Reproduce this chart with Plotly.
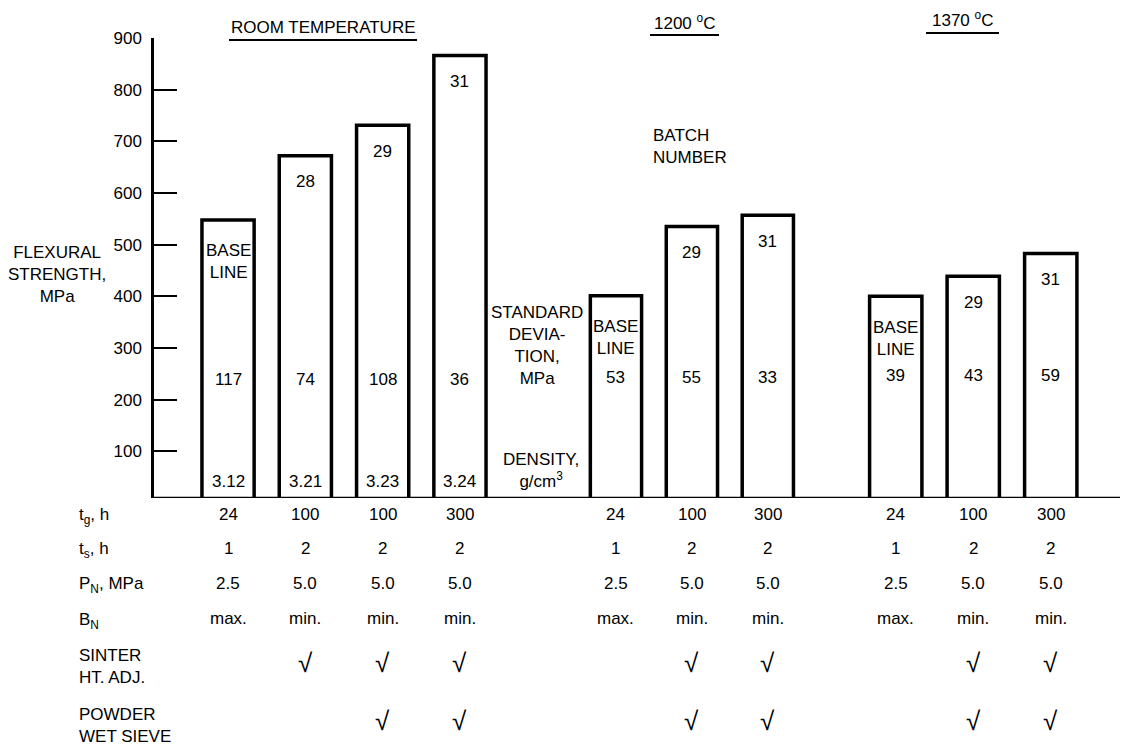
import plotly.graph_objects as go

FONT = "Liberation Sans, Arial, Helvetica, sans-serif"
FS = 17

# ---------------- data ----------------
group_titles = ["ROOM TEMPERATURE", "1200 <sup>o</sup>C", "1370 <sup>o</sup>C"]

rt_bars = ["Baseline", "Batch 28", "Batch 29", "Batch 31"]
hot_bars = ["Baseline", "Batch 29", "Batch 31"]

rt_strength = [548, 672, 731, 866]      # flexural strength, MPa
t1200_strength = [401, 535, 557]
t1370_strength = [400, 439, 483]

rt_batch = ["BASE<br>LINE", "28", "29", "31"]
hot_batch = ["BASE<br>LINE", "29", "31"]

rt_std = ["117", "74", "108", "36"]     # standard deviation, MPa
t1200_std = ["53", "55", "33"]
t1370_std = ["39", "43", "59"]

rt_density = ["3.12", "3.21", "3.23", "3.24"]   # g/cm3

rt_tg = ["24", "100", "100", "300"]
hot_tg = ["24", "100", "300"]
rt_ts = ["1", "2", "2", "2"]
hot_ts = ["1", "2", "2"]
rt_pn = ["2.5", "5.0", "5.0", "5.0"]
hot_pn = ["2.5", "5.0", "5.0"]
rt_bn = ["max.", "min.", "min.", "min."]
hot_bn = ["max.", "min.", "min."]
rt_sinter = [False, True, True, True]
hot_sinter = [False, True, True]
rt_sieve = [False, False, True, True]
hot_sieve = [False, True, True]

row_labels = ["t<sub>g</sub>, h", "t<sub>s</sub>, h", "P<sub>N</sub>, MPa", "B<sub>N</sub>",
              "SINTER<br>HT. ADJ.", "POWDER<br>WET SIEVE"]
y_ticks = [100, 200, 300, 400, 500, 600, 700, 800, 900]

# ---------------- layout geometry ----------------
# page has an 8px body margin; figure is sized to fit the remaining window
OFF = 8
W_FIG, H_FIG = 1131 - OFF, 751 - OFF
PLOT_L, PLOT_T, PLOT_B = 152, 38, 498          # page pixel positions of plot area
L = PLOT_L - OFF
T = PLOT_T - OFF
B = H_FIG - (PLOT_B - OFF)
R = 0
PW = W_FIG - L - R
PH = H_FIG - T - B
Y0, Y1 = 9.8, 900


def px2x(px):
    return (px - PLOT_L) / PW


def py2y(py):
    return (PLOT_B - py) / PH


domains = [
    [px2x(189.4), px2x(498.6)],
    [px2x(578.0), px2x(805.8)],
    [px2x(857.0), px2x(1089.5)],
]

groups = [
    dict(ax="x", cats=rt_bars, vals=rt_strength, batch=rt_batch, std=rt_std,
         std_py=380, tg=rt_tg, ts=rt_ts, pn=rt_pn, bn=rt_bn, sinter=rt_sinter, sieve=rt_sieve),
    dict(ax="x2", cats=hot_bars, vals=t1200_strength, batch=hot_batch, std=t1200_std,
         std_py=377, tg=hot_tg, ts=hot_ts, pn=hot_pn, bn=hot_bn, sinter=hot_sinter, sieve=hot_sieve),
    dict(ax="x3", cats=hot_bars, vals=t1370_strength, batch=hot_batch, std=t1370_std,
         std_py=375, tg=hot_tg, ts=hot_ts, pn=hot_pn, bn=hot_bn, sinter=hot_sinter, sieve=hot_sieve),
]

fig = go.Figure()
annotations = []


def ann(text, x, y, xref="paper", yref="paper", xanchor="center", yanchor="middle",
        size=FS, align="center", yshift=0):
    annotations.append(dict(text=text, x=x, y=y, xref=xref, yref=yref, xanchor=xanchor,
                            yanchor=yanchor, showarrow=False, align=align, yshift=yshift,
                            font=dict(family=FONT, size=size, color="black")))


row_py = [514, 548, 583, 618, 663, 721]

for gi, g in enumerate(groups):
    fig.add_trace(go.Bar(
        x=g["cats"], y=g["vals"], xaxis=g["ax"], yaxis="y",
        marker=dict(color="white", line=dict(color="black", width=3.5)),
        showlegend=False, hoverinfo="x+y",
    ))
    for i, c in enumerate(g["cats"]):
        lab = g["batch"][i]
        ann(lab, c, g["vals"][i], xref=g["ax"], yref="y",
            yshift=(-42 if "BASE" in lab else -26))
        ann(g["std"][i], c, py2y(g["std_py"]), xref=g["ax"])
        if gi == 0:
            ann(rt_density[i], c, py2y(481), xref=g["ax"])
        ann(g["tg"][i], c, py2y(row_py[0]), xref=g["ax"])
        ann(g["ts"][i], c, py2y(row_py[1]), xref=g["ax"])
        ann(g["pn"][i], c, py2y(row_py[2]), xref=g["ax"])
        ann(g["bn"][i], c, py2y(row_py[3]), xref=g["ax"])
        if g["sinter"][i]:
            ann("√", c, py2y(row_py[4]), xref=g["ax"], size=26)
        if g["sieve"][i]:
            ann("√", c, py2y(row_py[5]), xref=g["ax"], size=26)

# row labels
label_py = [516, 550, 585, 621, 666, 725]
for lab, py in zip(row_labels, label_py):
    ann(lab, px2x(77), py2y(py), xanchor="left", align="left")

# side labels
ann("FLEXURAL<br>STRENGTH,<br>MPa", px2x(57), py2y(274))
ann("STANDARD<br>DEVIA-<br>TION,<br>MPa", px2x(537), py2y(345))
ann("DENSITY,<br>g/cm<sup>3</sup>", px2x(541), py2y(470))
ann("BATCH<br>NUMBER", px2x(651), py2y(146), xanchor="left", align="left")

# group headings with underlines
heads = [(323, 27, 229, 417, 40), (684, 22, 650, 719, 35), (962, 19, 926, 999, 33)]
shapes = []
for title, (cx, cy, u0, u1, uy) in zip(group_titles, heads):
    ann(title, px2x(cx), py2y(cy))
    shapes.append(dict(type="line", xref="paper", yref="paper",
                       x0=px2x(u0), x1=px2x(u1), y0=py2y(uy), y1=py2y(uy),
                       line=dict(color="black", width=2)))

# baseline across all groups
shapes.append(dict(type="line", xref="paper", yref="y", x0=0, x1=px2x(1120),
                   y0=Y0, y1=Y0, line=dict(color="black", width=2.5)))

hidden = dict(showticklabels=False, showline=False, showgrid=False, zeroline=False,
              ticks="", fixedrange=True, type="category")

fig.update_layout(
    width=W_FIG, height=H_FIG,
    margin=dict(l=L, r=R, t=T, b=B, pad=0),
    paper_bgcolor="white", plot_bgcolor="white",
    bargap=0.325,
    font=dict(family=FONT, size=FS, color="black"),
    xaxis=dict(domain=domains[0], anchor="y", **hidden),
    xaxis2=dict(domain=domains[1], anchor="y", **hidden),
    xaxis3=dict(domain=domains[2], anchor="y", **hidden),
    yaxis=dict(range=[Y0, Y1], tickvals=y_ticks, ticks="inside", ticklen=23, tickwidth=2,
               tickcolor="black", showline=True, linewidth=2.5, linecolor="black",
               showgrid=False, zeroline=False, anchor="free", position=0,
               tickfont=dict(family=FONT, size=FS, color="black"), ticklabelstandoff=6),
    annotations=annotations,
    shapes=shapes,
    showlegend=False,
)

fig.write_html("out.html")
